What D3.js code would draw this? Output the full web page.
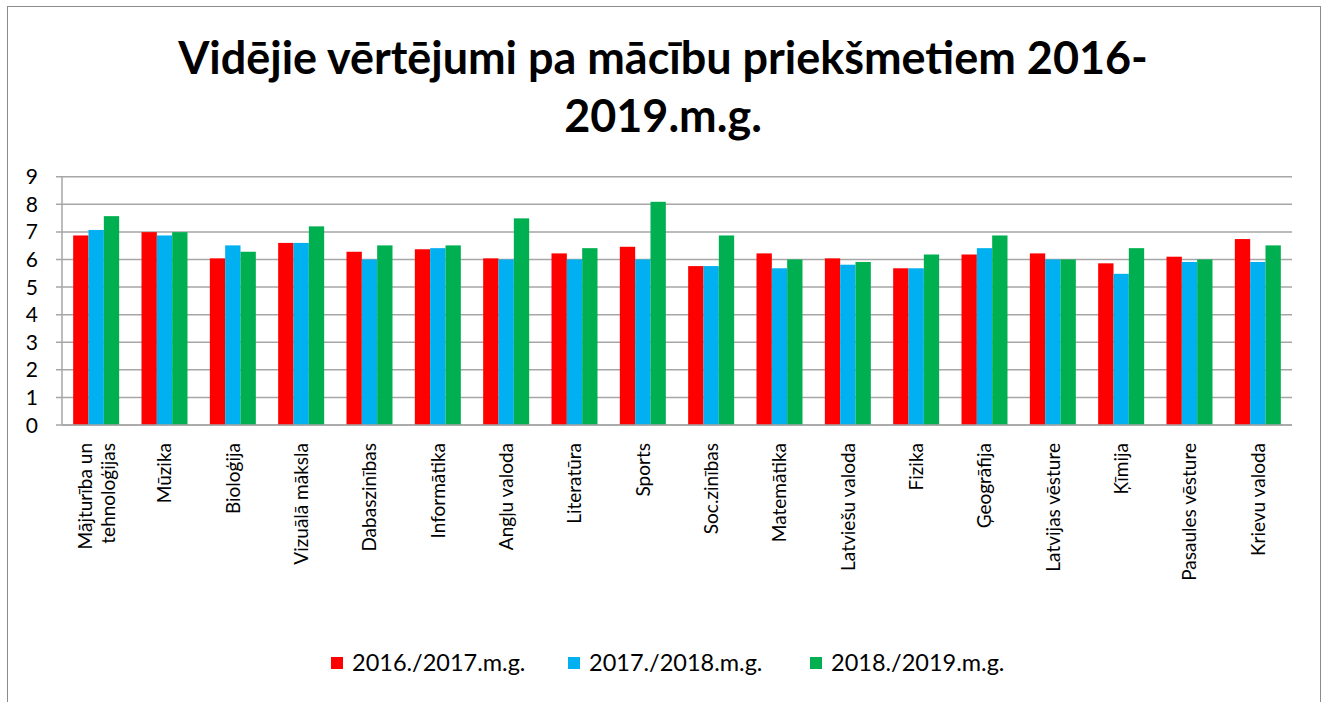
<!DOCTYPE html>
<html>
<head>
<meta charset="utf-8">
<script src="https://cdn.jsdelivr.net/npm/d3@7"></script>
<style>
  body { margin: 0; background: #fff; }
  svg { display: block; font-family: Lato, "Open Sans", sans-serif; }
</style>
</head>
<body>
<div id="container"></div>
<script>
const subjects = [
  ["Mājturība un", "tehnoloģijas"], ["Mūzika"], ["Bioloģija"], ["Vizuālā māksla"],
  ["Dabaszinības"], ["Informātika"], ["Angļu valoda"], ["Literatūra"], ["Sports"],
  ["Soc.zinības"], ["Matemātika"], ["Latviešu valoda"], ["Fizika"], ["Ģeogrāfija"],
  ["Latvijas vēsture"], ["Ķīmija"], ["Pasaules vēsture"], ["Krievu valoda"]
];
const seriesNames = ["2016./2017.m.g.", "2017./2018.m.g.", "2018./2019.m.g."];
const values2016 = [6.87, 6.99, 6.04, 6.60, 6.28, 6.37, 6.04, 6.22, 6.46, 5.76, 6.22, 6.04, 5.68, 6.18, 6.22, 5.86, 6.10, 6.74];
const values2017 = [7.07, 6.87, 6.51, 6.60, 6.00, 6.41, 6.00, 6.00, 6.00, 5.76, 5.68, 5.81, 5.68, 6.41, 6.00, 5.48, 5.91, 5.91];
const values2018 = [7.57, 6.99, 6.28, 7.20, 6.51, 6.51, 7.49, 6.41, 8.09, 6.87, 6.00, 5.91, 6.18, 6.87, 6.00, 6.41, 6.00, 6.51];
const yTicks = [0, 1, 2, 3, 4, 5, 6, 7, 8, 9];
const titleLines = ["Vidējie vērtējumi pa mācību priekšmetiem 2016-", "2019.m.g."];

const colors = ["#ff0000", "#00b0f0", "#00b050"];
const allValues = [values2016, values2017, values2018];

const totalWidth = 1321, totalHeight = 702;
const plot = { left: 62, right: 1292, top: 176.7, bottom: 425 };

const svg = d3.select("#container").append("svg")
  .attr("width", totalWidth)
  .attr("height", totalHeight);

// outer frame
svg.append("rect")
  .attr("x", 7.5).attr("y", 6.5)
  .attr("width", 1313).attr("height", 700)
  .attr("fill", "#fff")
  .attr("stroke", "#8c8c8c")
  .attr("stroke-width", 1);

// Title
const title = svg.append("g");
titleLines.forEach((t, i) => {
  title.append("text")
    .attr("x", 663)
    .attr("y", 74 + i * 58)
    .attr("text-anchor", "middle")
    .style("font-weight", "bold")
    .style("font-size", "44px")
    .attr("fill", "#000")
    .text(t);
});
// fit first line to reference width
const firstLine = title.select("text").node();
const w = firstLine.getComputedTextLength();
const fs = 44 * 970 / w;
title.selectAll("text").style("font-size", fs + "px");

// Scales
const x = d3.scaleBand()
  .domain(d3.range(subjects.length))
  .range([plot.left, plot.right])
  .paddingInner(0.327)
  .paddingOuter(0.1635);

const xInner = d3.scaleBand()
  .domain(d3.range(seriesNames.length))
  .range([0, x.bandwidth()]);

const y = d3.scaleLinear()
  .domain([0, 9])
  .range([plot.bottom, plot.top]);

// Gridlines
svg.append("g")
  .selectAll("line")
  .data(yTicks)
  .enter()
  .append("line")
  .attr("x1", plot.left - 6)
  .attr("x2", plot.right)
  .attr("y1", d => y(d))
  .attr("y2", d => y(d))
  .attr("stroke", "#a6a6a6")
  .attr("stroke-width", 1.5);

// y axis line
svg.append("line")
  .attr("x1", plot.left).attr("x2", plot.left)
  .attr("y1", plot.top).attr("y2", plot.bottom)
  .attr("stroke", "#a6a6a6")
  .attr("stroke-width", 1.5);

// y tick labels
svg.append("g")
  .selectAll("text")
  .data(yTicks)
  .enter()
  .append("text")
  .attr("x", 38)
  .attr("y", d => y(d))
  .attr("dy", "0.36em")
  .attr("text-anchor", "end")
  .style("font-size", "21px")
  .attr("fill", "#000")
  .text(d => d);

// Bars
const groups = svg.append("g")
  .selectAll("g")
  .data(subjects.map((s, i) => i))
  .enter()
  .append("g")
  .attr("transform", i => `translate(${x(i)},0)`);

groups.selectAll("rect")
  .data(i => allValues.map((vals, s) => ({ s, v: vals[i] })))
  .enter()
  .append("rect")
  .attr("x", d => xInner(d.s))
  .attr("width", xInner.bandwidth())
  .attr("y", d => y(d.v))
  .attr("height", d => y(0) - y(d.v))
  .attr("fill", d => colors[d.s]);

// x axis baseline on top of bars
svg.append("line")
  .attr("x1", plot.left).attr("x2", plot.right)
  .attr("y1", y(0)).attr("y2", y(0))
  .attr("stroke", "#a6a6a6")
  .attr("stroke-width", 1.5);

// x labels, rotated
const labels = svg.append("g")
  .selectAll("text")
  .data(subjects)
  .enter()
  .append("text")
  .attr("transform", (d, i) => `translate(${x(i) + x.bandwidth() / 2},443) rotate(-90)`)
  .attr("text-anchor", "end")
  .style("font-size", "19px")
  .attr("fill", "#000");

labels.each(function (d) {
  const n = d.length;
  d3.select(this).selectAll("tspan")
    .data(d)
    .enter()
    .append("tspan")
    .attr("x", 0)
    .attr("y", (t, j) => (j - (n - 1) / 2) * 23)
    .attr("dy", "0.36em")
    .text(t => t);
});

// Legend
const legendX = [331, 568, 810];
const legend = svg.append("g");
seriesNames.forEach((name, i) => {
  legend.append("rect")
    .attr("x", legendX[i])
    .attr("y", 657)
    .attr("width", 12)
    .attr("height", 12)
    .attr("fill", colors[i]);
  legend.append("text")
    .attr("x", legendX[i] + 21)
    .attr("y", 663)
    .attr("dy", "0.36em")
    .style("font-size", "23.5px")
    .attr("fill", "#000")
    .text(name);
});
</script>
</body>
</html>
